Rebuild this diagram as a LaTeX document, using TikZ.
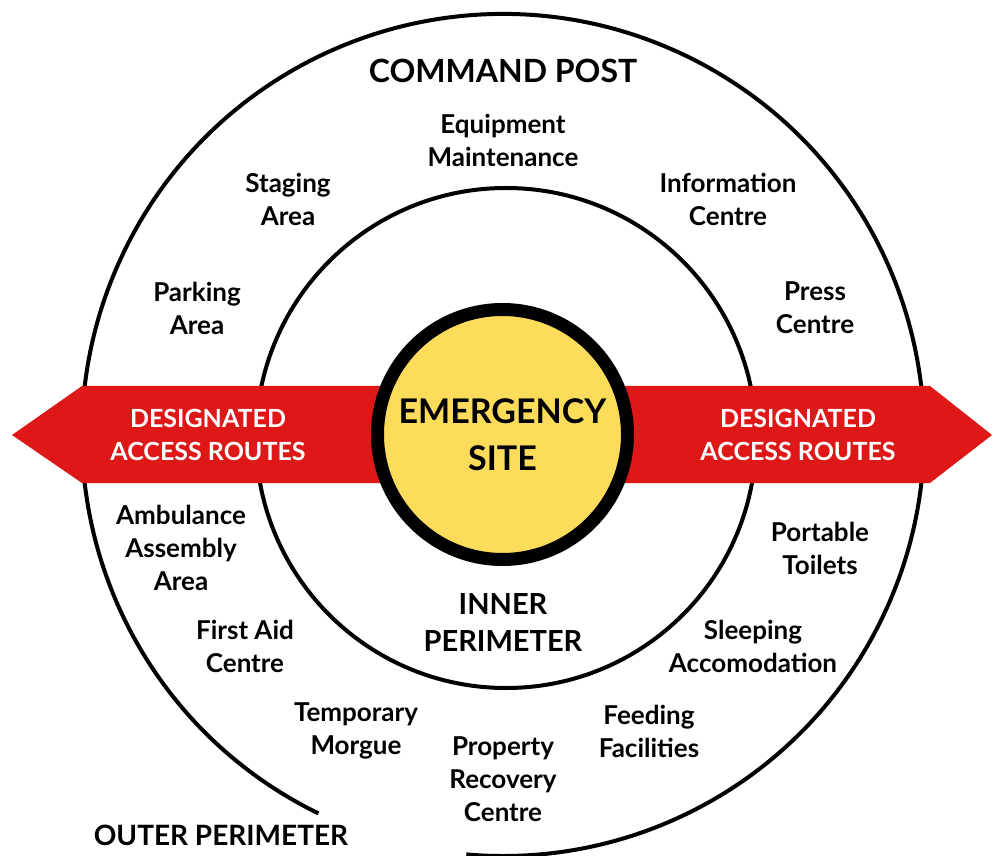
\documentclass[tikz,border=0pt]{standalone}
\usepackage{fontspec}
\setmainfont{Lato}
\usetikzlibrary{positioning}
\definecolor{routered}{HTML}{DE1717}
\definecolor{siteyellow}{HTML}{FDDC5C}
\tikzset{
  zonetext/.style={
    font=\fontsize{26}{33}\selectfont\bfseries,
    align=center, inner sep=0pt
  },
  ringtitle/.style={
    font=\fontsize{29}{37}\selectfont\bfseries,
    align=center, inner sep=0pt
  },
  routetext/.style={
    font=\fontsize{25}{33}\selectfont\bfseries, text=white,
    align=center, inner sep=0pt
  },
  perimeter/.style={line width=4pt},
}

\begin{document}
\begin{tikzpicture}[x=1pt,y=1pt]
  \useasboundingbox (0,0) rectangle (992,855);
  \coordinate (outerc) at (503,420);
  \coordinate (innerc) at (506,417);

  % outer perimeter, left open at the bottom for its label
  \draw[perimeter] (outerc) ++(244:421)
    arc[start angle=244, end angle=-95, radius=421];
  % inner perimeter
  \draw[perimeter] (innerc) circle[radius=250];

  % access routes band across both rings
  \fill[routered] (12,420) -- (82,469) -- (930,469) -- (992,420)
    -- (930,372) -- (82,372) -- cycle;

  \node[circle, draw, line width=13pt, fill=siteyellow,
        minimum size=250pt, ringtitle,
        font=\fontsize{34}{47}\selectfont\bfseries] (site) at (502.5,420.5)
    {EMERGENCY\\SITE};

  \node[routetext] (routeW) at (208,420) {DESIGNATED\\ACCESS ROUTES};
  \node[routetext] (routeE) at (798,420) {DESIGNATED\\ACCESS ROUTES};

  % ring titles
  \node[ringtitle, font=\fontsize{32}{37}\selectfont\bfseries]
    (command) at (503,784) {COMMAND POST};
  \node[ringtitle] (inner) at (503,232) {INNER\\PERIMETER};
  \node[ringtitle, font=\fontsize{28}{37}\selectfont\bfseries]
    (outer) at (221,20) {OUTER PERIMETER};

  % facilities between the rings
  \node[zonetext] (equip) at (503,715) {Equipment\\Maintenance};
  \node[zonetext] (staging) at (288,656) {Staging\\Area};
  \node[zonetext] (info) at (728,656) {Information\\Centre};
  \node[zonetext] (parking) at (197,547) {Parking\\Area};
  \node[zonetext] (press) at (815,547) {Press\\Centre};
  \node[zonetext] (ambulance) at (181,307) {Ambulance\\Assembly\\Area};
  \node[zonetext] (toilets) at (820,307) {Portable\\Toilets};
  \node[zonetext] (firstaid) at (245,209) {First Aid\\Centre};
  \node[zonetext] (sleeping) at (753,209) {Sleeping\\Accomodation};
  \node[zonetext] (morgue) at (356,124) {Temporary\\Morgue};
  \node[zonetext] (property) at (503,76) {Property\\Recovery\\Centre};
  \node[zonetext] (feeding) at (649,124) {Feeding\\Facilities};
\end{tikzpicture}
\end{document}
